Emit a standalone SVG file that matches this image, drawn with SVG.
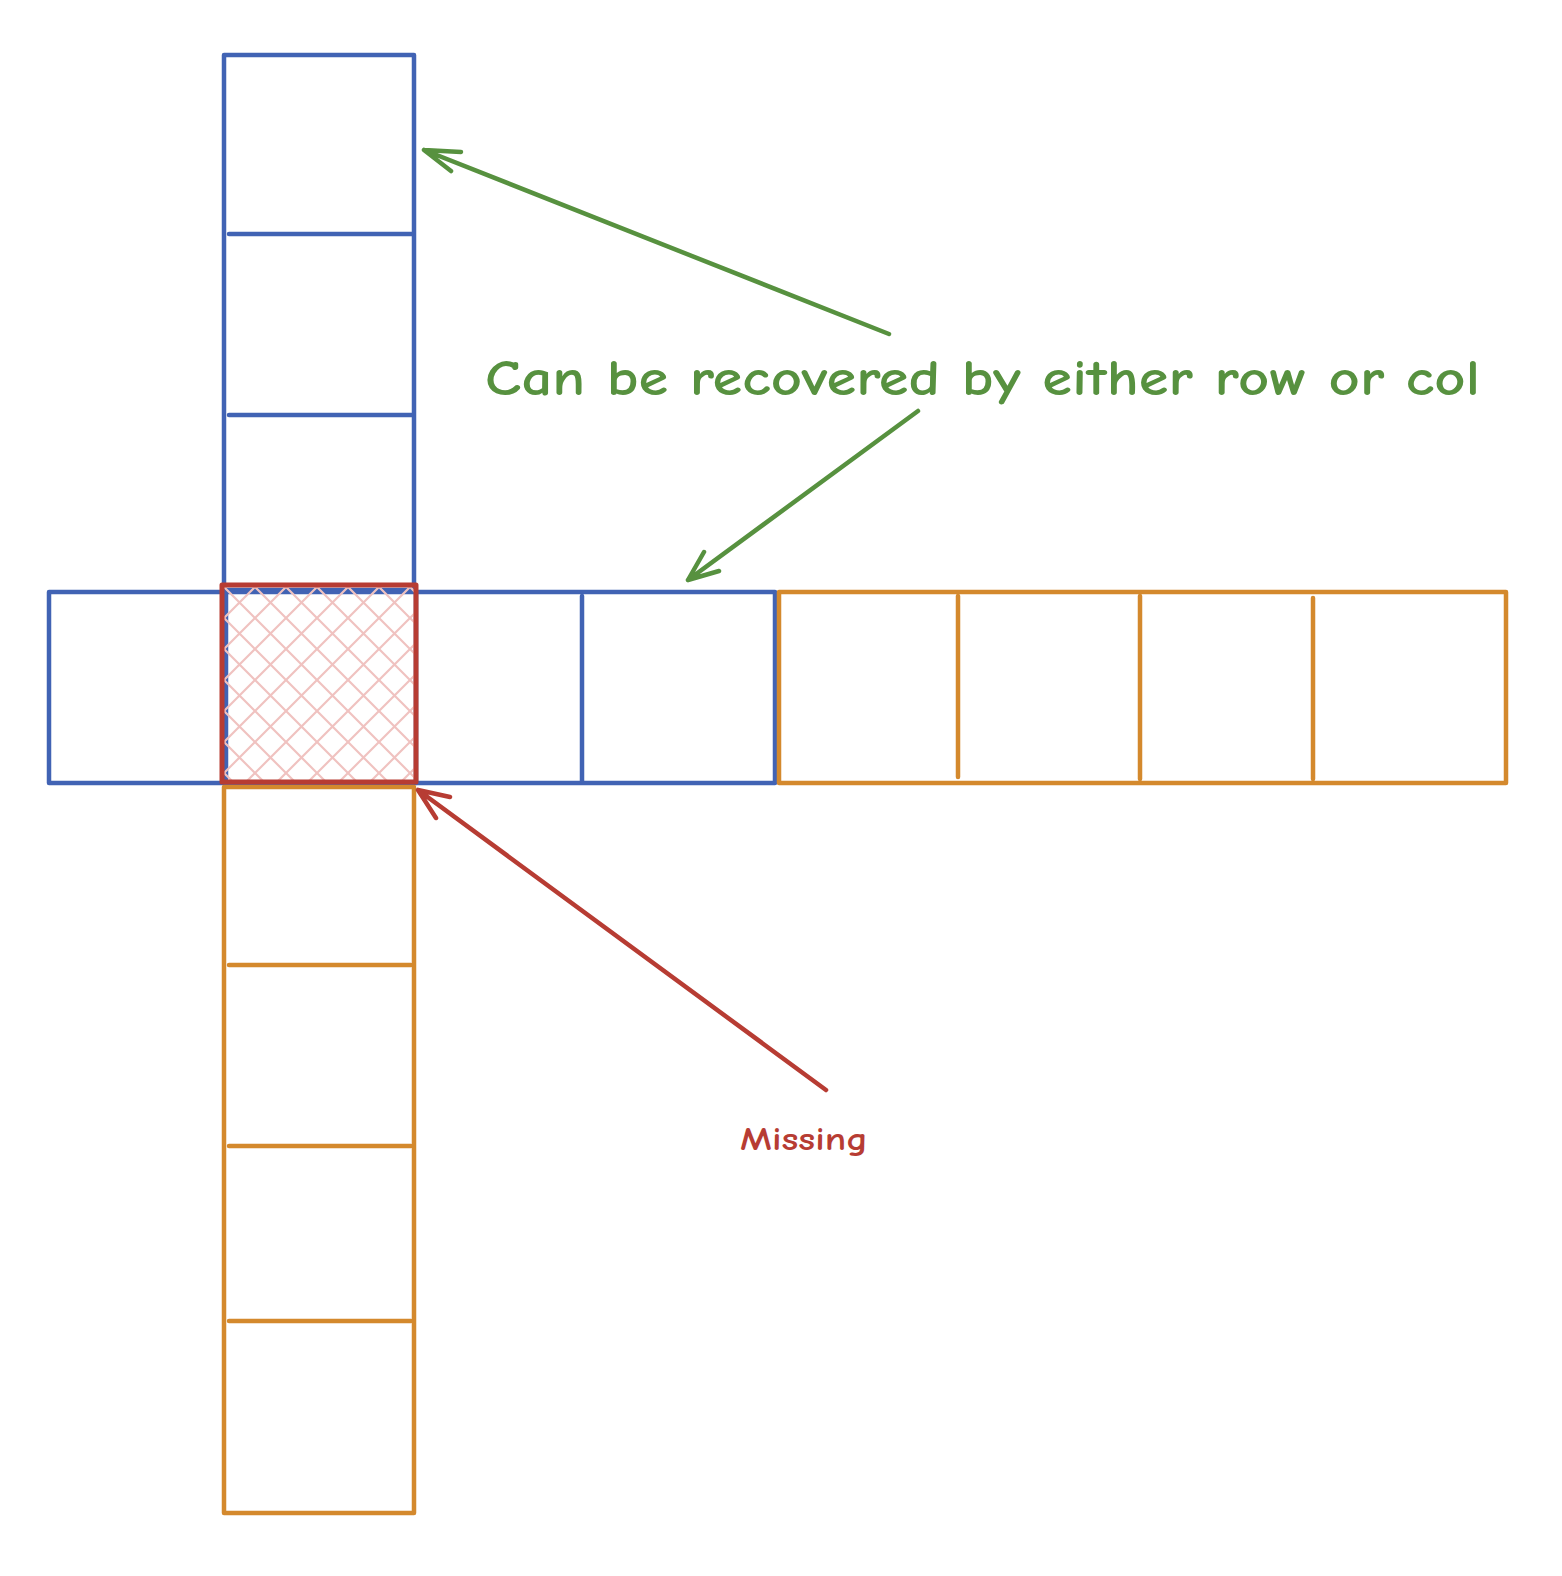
<svg xmlns="http://www.w3.org/2000/svg" width="1562" height="1576" viewBox="0 0 1562 1576">
<defs>
<style>
.blue{fill:none;stroke:#4163b4;stroke-width:4.5;stroke-linecap:round;stroke-linejoin:round}
.orange{fill:none;stroke:#d4892d;stroke-width:4.5;stroke-linecap:round;stroke-linejoin:round}
.green{fill:none;stroke:#57913f;stroke-width:4.5;stroke-linecap:round;stroke-linejoin:round}
.red{fill:none;stroke:#b73c33;stroke-width:4.5;stroke-linecap:round;stroke-linejoin:round}
.hatch{stroke:#f0c2c0;stroke-width:2.2}
.t{font-family:"Comic Neue","Liberation Sans",sans-serif;font-weight:700}
</style>
<pattern id="cross" patternUnits="userSpaceOnUse" width="31" height="31" x="224" y="587">
<path class="hatch" d="M0,0 L31,31 M31,0 L0,31 M-1,30 L1,32 M30,-1 L32,1 M30,32 L32,30 M-1,1 L1,-1"/>
</pattern>
</defs>
<rect width="1562" height="1576" fill="#ffffff"/>
<g id="top-column">
<rect class="blue" x="224" y="55" width="190" height="535"/>
<line class="blue" x1="229" y1="234" x2="412" y2="234"/>
<line class="blue" x1="229" y1="415" x2="412" y2="415"/>
</g>
<g id="blue-row">
<rect class="blue" x="49" y="592" width="726" height="191"/>
<line class="blue" x1="416" y1="592" x2="416" y2="783"/>
<line class="blue" x1="582" y1="596" x2="582" y2="781"/>
<line class="blue" x1="226" y1="592" x2="226" y2="783"/>
</g>
<g id="orange-row">
<rect class="orange" x="779" y="592" width="727" height="191"/>
<line class="orange" x1="958" y1="596" x2="958" y2="777"/>
<line class="orange" x1="1140" y1="596" x2="1140" y2="779"/>
<line class="orange" x1="1313" y1="598" x2="1313" y2="779"/>
</g>
<g id="orange-column">
<rect class="orange" x="224" y="787" width="190" height="726"/>
<line class="orange" x1="229" y1="965" x2="411" y2="965"/>
<line class="orange" x1="229" y1="1146" x2="411" y2="1146"/>
<line class="orange" x1="229" y1="1321" x2="411" y2="1321"/>
</g>
<g id="missing-cell">
<rect x="224" y="587" width="190" height="193" fill="url(#cross)"/>
<rect x="222" y="585" width="194" height="197" fill="none" stroke="#b73c33" stroke-width="5" stroke-linejoin="round"/>
</g>
<g id="connectors">
<path class="green" d="M889,334 L424,150 M424,150 L461,152 M424,150 L451,171"/>
<path class="green" d="M918,411 L688,580 M688,580 L704,552 M688,580 L719,571"/>
<path class="red" d="M826,1090 L418,790 M418,790 L450,797 M418,790 L436,818"/>
</g>
<g id="labels">
<text class="t" x="485" y="395" font-size="50" fill="#57913f" textLength="995" lengthAdjust="spacingAndGlyphs">Can be recovered by either row or col</text>
<text class="t" x="740" y="1150" font-size="32" fill="#b73c33" textLength="128" lengthAdjust="spacingAndGlyphs">Missing</text>
</g>
</svg>
